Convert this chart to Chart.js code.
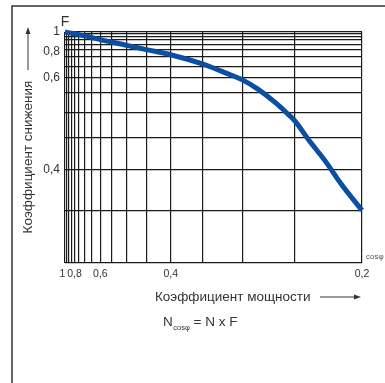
<!DOCTYPE html>
<html>
<head>
<meta charset="utf-8">
<script src="https://cdn.jsdelivr.net/npm/chart.js@4/dist/chart.umd.min.js"></script>
<style>
  html, body { margin: 0; padding: 0; background: #fff; }
</style>
</head>
<body>
<canvas id="graph_reduction" width="385" height="383"></canvas>
<script>
// dati
var cosPhi = [1, 0.8, 0.7, 0.6, 0.5, 0.45, 0.4, 0.35, 0.32, 0.3, 0.284, 0.268, 0.256, 0.25, 0.239, 0.226, 0.214, 0.2];
var factorF = [1, 0.955, 0.917, 0.855, 0.79, 0.752, 0.715, 0.661, 0.62, 0.592, 0.561, 0.525, 0.496, 0.481, 0.446, 0.412, 0.38, 0.35];

var xGridValues = [1, 0.95, 0.9, 0.85, 0.8, 0.75, 0.7, 0.65, 0.6, 0.55, 0.5, 0.45, 0.4, 0.35, 0.3, 0.25, 0.2];
var yGridValues = [1, 0.95, 0.9, 0.85, 0.8, 0.75, 0.7, 0.65, 0.6, 0.55, 0.5, 0.45, 0.4, 0.35, 0.3];
var xTickLabels = [1, 0.8, 0.6, 0.4, 0.2];
var yTickLabels = [1, 0.8, 0.6, 0.4];

var FONT = '"Liberation Sans", Arial, sans-serif';
var TEXT_COLOR = "#333";

//scala esponenziale: pixel proporzionale a exp(-5 * valore)
class ExpScale extends Chart.LinearScale {
  static id = "exp5";
  static defaults = {};

  t(v) {
    return Math.exp(-5 * v);
  }

  getPixelForValue(value) {
    var a = this.t(this.min);
    var b = this.t(this.max);
    return this.getPixelForDecimal((this.t(value) - a) / (b - a));
  }

  getValueForPixel(pixel) {
    var a = this.t(this.min);
    var b = this.t(this.max);
    var d = this.getDecimalForPixel(pixel);
    return -Math.log(a + d * (b - a)) / 5;
  }
}
Chart.register(ExpScale);

function formatTick(value, labels) {
  if (labels.indexOf(value) === -1) {
    return "";
  }
  return value === 1 ? "1" : value.toFixed(1).replace(".", ",");
}

//testi e frecce attorno al grafico
var annotationsPlugin = {
  id: "annotations",
  afterDraw: function(chart) {
    var ctx = chart.ctx;
    var area = chart.chartArea;

    ctx.save();

    // cornice esterna
    ctx.strokeStyle = "#333";
    ctx.lineWidth = 1.5;
    ctx.beginPath();
    ctx.moveTo(12, 383);
    ctx.lineTo(12, 6);
    ctx.lineTo(385, 6);
    ctx.stroke();

    ctx.fillStyle = TEXT_COLOR;
    ctx.strokeStyle = TEXT_COLOR;
    ctx.lineWidth = 1;

    // F
    ctx.font = "14px " + FONT;
    ctx.textAlign = "center";
    ctx.textBaseline = "middle";
    ctx.fillText("F", area.left, area.top - 10);

    // titolo asse y con freccia
    ctx.save();
    ctx.translate(28, 157);
    ctx.rotate(-Math.PI / 2);
    ctx.font = "13.5px " + FONT;
    ctx.fillText("Коэффициент снижения", 0, 0);
    ctx.restore();

    ctx.beginPath();
    ctx.moveTo(28, 70);
    ctx.lineTo(28, 32);
    ctx.stroke();
    ctx.beginPath();
    ctx.moveTo(28, 27);
    ctx.lineTo(25.5, 34);
    ctx.lineTo(30.5, 34);
    ctx.closePath();
    ctx.fill();

    // cos phi vicino all'asse
    ctx.font = "8px " + FONT;
    ctx.textAlign = "left";
    ctx.fillStyle = "#555";
    ctx.fillText("cosφ", area.right + 4, area.bottom - 6);
    ctx.fillStyle = TEXT_COLOR;

    // titolo asse x con freccia
    ctx.font = "13.5px " + FONT;
    ctx.fillText("Коэффициент мощности", 155, 297);
    ctx.beginPath();
    ctx.moveTo(320, 297);
    ctx.lineTo(356, 297);
    ctx.stroke();
    ctx.beginPath();
    ctx.moveTo(361, 297);
    ctx.lineTo(354, 294.5);
    ctx.lineTo(354, 299.5);
    ctx.closePath();
    ctx.fill();

    // formula
    var x = 163;
    ctx.font = "13.5px " + FONT;
    ctx.fillText("N", x, 322);
    x += ctx.measureText("N").width + 0.5;
    ctx.font = "7.5px " + FONT;
    ctx.fillText("cosφ", x, 328);
    x += ctx.measureText("cosφ").width;
    ctx.font = "13.5px " + FONT;
    ctx.fillText(" = N x F", x, 322);

    ctx.restore();
  }
};

var ctxLine = document.getElementById("graph_reduction");
var lineGraph = new Chart(ctxLine, {
  type: "line",
  data: {
    datasets: [{
      label: "F",
      data: cosPhi.map(function(c, i) {
        return { x: c, y: factorF[i] };
      }),
      borderColor: "#0b4ea2",
      borderWidth: 5,
      pointRadius: 0,
      cubicInterpolationMode: "monotone",
      clip: false,
      fill: false
    }]
  },
  options: {
    responsive: false,
    devicePixelRatio: 1,
    animation: false,
    layout: {
      padding: { left: 12, top: 32, right: 23, bottom: 100 }
    },
    plugins: {
      legend: { display: false },
      tooltip: { enabled: false }
    },
    scales: {
      x: {
        type: "exp5",
        reverse: true,
        min: 0.2,
        max: 1,
        afterBuildTicks: function(scale) {
          scale.ticks = xGridValues.map(function(v) { return { value: v }; });
        },
        afterFit: function(scale) {
          scale.height = 20;
          scale.paddingLeft = 0;
          scale.paddingRight = 0;
        },
        grid: { color: "#1a1a1a", lineWidth: 1.2, drawTicks: false },
        border: { display: false },
        ticks: {
          autoSkip: false,
          maxRotation: 0,
          padding: 5,
          color: TEXT_COLOR,
          font: { family: FONT, size: 10.5 },
          callback: function(value) {
            var label = formatTick(value, xTickLabels);
            // "1" un po' staccato da "0,8"
            return value === 1 ? label + "\u2002" : label;
          }
        }
      },
      y: {
        type: "exp5",
        min: 0.3,
        max: 1,
        afterBuildTicks: function(scale) {
          scale.ticks = yGridValues.map(function(v) { return { value: v }; });
        },
        afterFit: function(scale) {
          scale.width = 53;
          scale.paddingTop = 0;
          scale.paddingBottom = 0;
        },
        grid: { color: "#1a1a1a", lineWidth: 1.2, drawTicks: false },
        border: { display: false },
        ticks: {
          autoSkip: false,
          padding: 5,
          color: TEXT_COLOR,
          font: { family: FONT, size: 12 },
          callback: function(value) {
            var label = formatTick(value, yTickLabels);
            // "0,8" spostato un po' in basso come nell'originale
            return value === 0.8 ? ["", label] : label;
          }
        }
      }
    }
  },
  plugins: [annotationsPlugin]
});
</script>
</body>
</html>
